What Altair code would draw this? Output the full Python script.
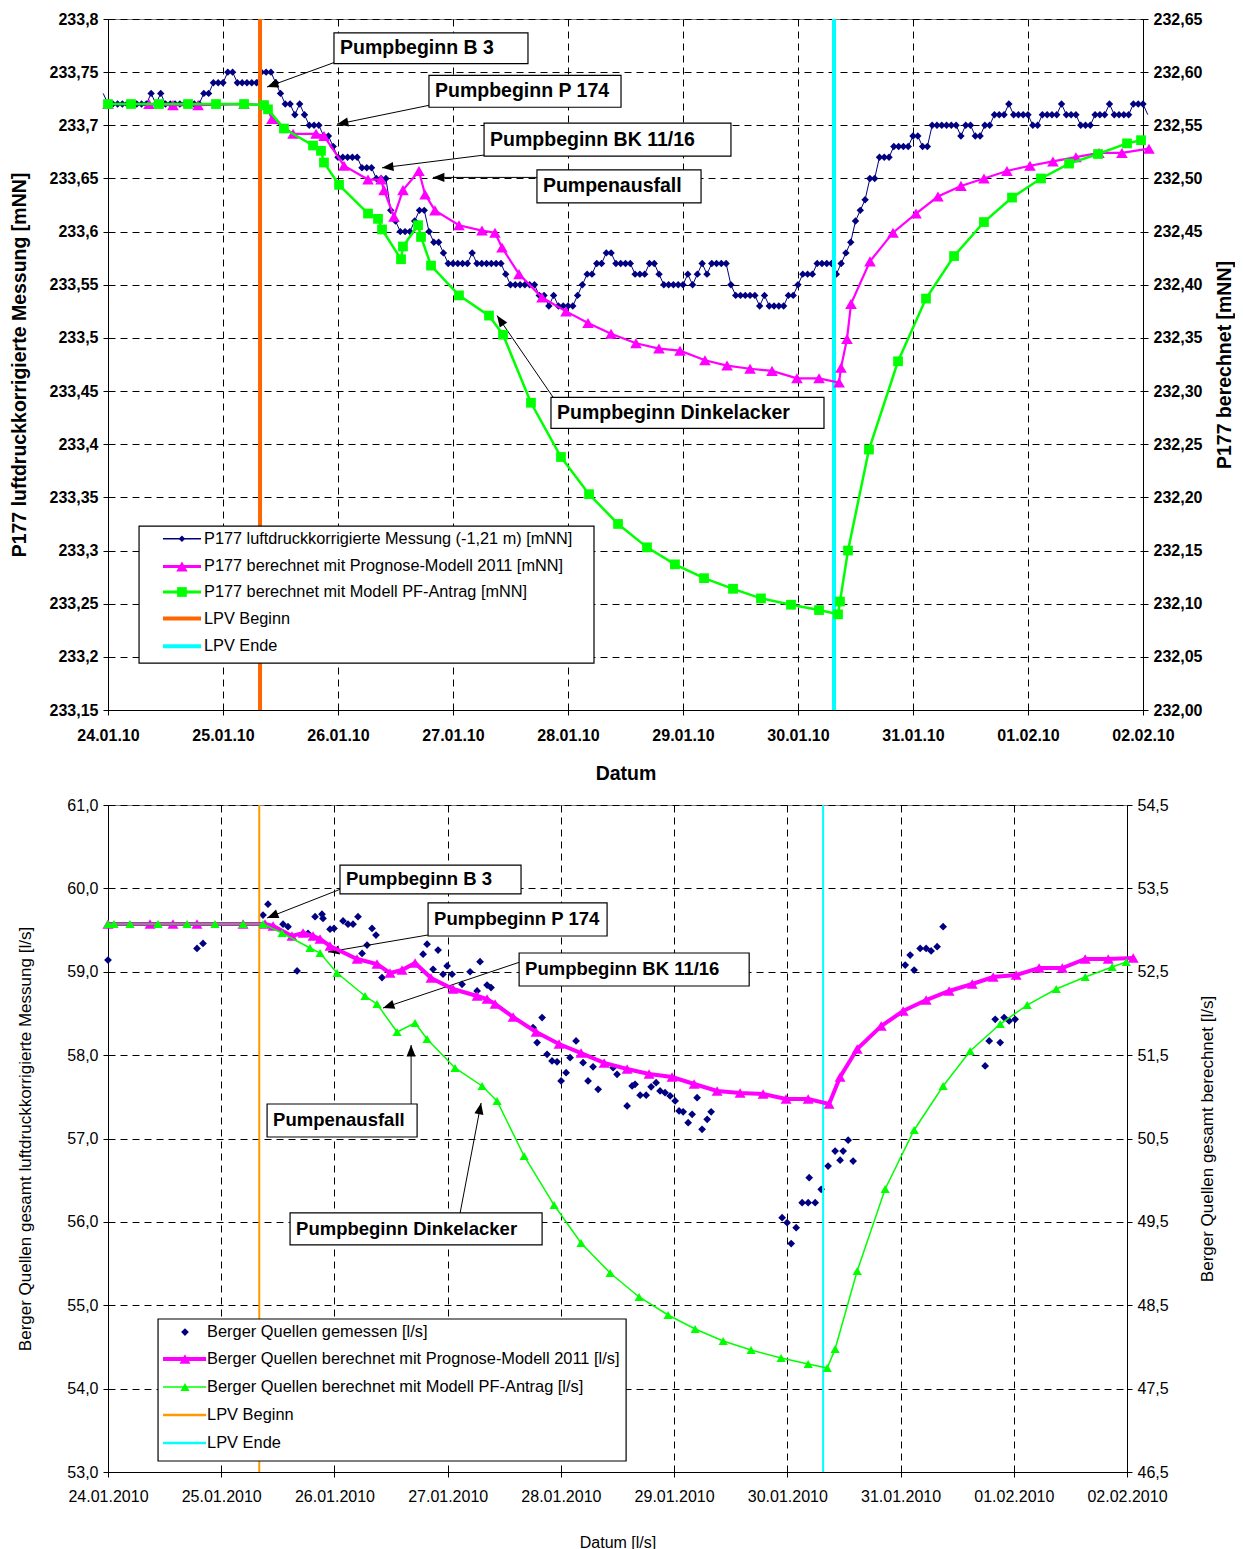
import math
import altair as alt
import pandas as pd

FONT = "Liberation Sans"

# ======================= TOP PANEL DATA =======================
TOP_X_LABELS = ["24.01.10", "25.01.10", "26.01.10", "27.01.10", "28.01.10",
                "29.01.10", "30.01.10", "31.01.10", "01.02.10", "02.02.10"]
TOP_LEFT_TICKS = [233.15, 233.2, 233.25, 233.3, 233.35, 233.4, 233.45, 233.5,
                  233.55, 233.6, 233.65, 233.7, 233.75, 233.8]
TOP_RIGHT_TICKS = [232.0, 232.05, 232.1, 232.15, 232.2, 232.25, 232.3, 232.35,
                   232.4, 232.45, 232.5, 232.55, 232.6, 232.65]

# hourly measurement, first value at hour -1 (23.01.2010 23:00)
TOP_MESS_FIRST_HOUR = -1
TOP_MESS = [
    233.73,
    233.72, 233.72, 233.72, 233.72, 233.72, 233.72, 233.72, 233.72, 233.72,
    233.73, 233.72, 233.73,
    233.72, 233.72, 233.72, 233.72, 233.72, 233.72, 233.72, 233.72,
    233.73, 233.73, 233.74, 233.74,
    233.74, 233.75, 233.75, 233.74, 233.74, 233.74, 233.74, 233.74, 233.75, 233.75, 233.75, 233.74,
    233.73, 233.72, 233.72, 233.71, 233.72, 233.71, 233.70, 233.70, 233.70, 233.69, 233.69, 233.68,
    233.67, 233.67, 233.67, 233.67, 233.67, 233.66, 233.66, 233.66, 233.65, 233.65, 233.65, 233.62,
    233.61, 233.60, 233.60, 233.60, 233.61, 233.62, 233.62, 233.60, 233.59, 233.59, 233.58, 233.57,
    233.57, 233.57, 233.57, 233.57, 233.58, 233.57, 233.57, 233.57, 233.57, 233.57, 233.57, 233.56,
    233.55, 233.55, 233.55, 233.55, 233.55, 233.55, 233.54, 233.54, 233.53, 233.54, 233.53, 233.53,
    233.53, 233.53, 233.54, 233.55, 233.56, 233.56, 233.57, 233.57, 233.58, 233.58, 233.57, 233.57,
    233.57, 233.57, 233.56, 233.56, 233.56, 233.57, 233.57, 233.56, 233.55, 233.55, 233.55, 233.55,
    233.55, 233.56, 233.55, 233.56, 233.57, 233.56, 233.57, 233.57, 233.57, 233.57, 233.55, 233.54,
    233.54, 233.54, 233.54, 233.54, 233.53, 233.54, 233.53, 233.53, 233.53, 233.53, 233.54, 233.54,
    233.55, 233.56, 233.56, 233.56, 233.57, 233.57, 233.57, 233.57, 233.56, 233.57, 233.58, 233.59,
    233.61, 233.62, 233.63, 233.65, 233.65, 233.67, 233.67, 233.67, 233.68, 233.68, 233.68, 233.68,
    233.69, 233.69, 233.68, 233.68, 233.70, 233.70, 233.70, 233.70, 233.70, 233.70, 233.69, 233.70,
    233.70, 233.69, 233.69, 233.70, 233.70, 233.71, 233.71, 233.71, 233.72, 233.71, 233.71, 233.71,
    233.71, 233.70, 233.70, 233.71, 233.71, 233.71, 233.71, 233.72, 233.71, 233.71, 233.71, 233.70,
    233.70, 233.70, 233.71, 233.71, 233.71, 233.72, 233.71, 233.71, 233.71, 233.71, 233.72, 233.72,
    233.72, 233.71,
]

TOP_PROG_D = [0.0, 0.357, 0.565, 0.783, 1.183, 1.374, 1.426, 1.609, 1.809, 1.878,
              2.052, 2.261, 2.374, 2.400, 2.487, 2.565, 2.704, 2.757, 2.843, 3.052,
              3.252, 3.365, 3.426, 3.574, 3.774, 3.983, 4.174, 4.374, 4.591, 4.791,
              4.974, 5.191, 5.383, 5.583, 5.774, 5.991, 6.183, 6.357, 6.374, 6.426,
              6.461, 6.626, 6.826, 7.026, 7.217, 7.417, 7.617, 7.817, 8.017, 8.217,
              8.417, 8.617, 8.817, 9.052]
TOP_PROG_V = [232.570, 232.570, 232.569, 232.569, 232.570, 232.569, 232.556, 232.542, 232.542, 232.540,
              232.512, 232.499, 232.499, 232.489, 232.464, 232.489, 232.507, 232.485, 232.470, 232.456,
              232.451, 232.449, 232.435, 232.410, 232.388, 232.375, 232.364, 232.354, 232.345, 232.340,
              232.338, 232.329, 232.324, 232.321, 232.319, 232.312, 232.312, 232.308, 232.322, 232.349,
              232.382, 232.422, 232.449, 232.467, 232.483, 232.493, 232.500, 232.507, 232.512, 232.516,
              232.520, 232.524, 232.524, 232.528]

TOP_PF_D = [0.0, 0.200, 0.443, 0.696, 0.939, 1.183, 1.357, 1.391, 1.530, 1.783,
            1.852, 1.878, 2.009, 2.261, 2.348, 2.383, 2.548, 2.565, 2.696, 2.722,
            2.809, 3.052, 3.313, 3.435, 3.678, 3.939, 4.183, 4.435, 4.687, 4.930,
            5.183, 5.435, 5.678, 5.939, 6.183, 6.348, 6.365, 6.435, 6.617, 6.870,
            7.113, 7.357, 7.617, 7.861, 8.113, 8.357, 8.609, 8.861, 8.983]
TOP_PF_V = [232.570, 232.570, 232.570, 232.570, 232.570, 232.570, 232.569, 232.565, 232.547, 232.531,
            232.526, 232.515, 232.494, 232.467, 232.462, 232.452, 232.424, 232.436, 232.456, 232.445,
            232.418, 232.390, 232.371, 232.353, 232.289, 232.238, 232.203, 232.175, 232.153, 232.137,
            232.124, 232.114, 232.105, 232.099, 232.094, 232.090, 232.102, 232.150, 232.245, 232.328,
            232.387, 232.427, 232.459, 232.482, 232.500, 232.514, 232.523, 232.533, 232.536]

TOP_LPV = [1.322, 6.313]

# ======================= BOTTOM PANEL DATA =======================
BOT_X_LABELS = ["24.01.2010", "25.01.2010", "26.01.2010", "27.01.2010", "28.01.2010",
                "29.01.2010", "30.01.2010", "31.01.2010", "01.02.2010", "02.02.2010"]
BOT_LEFT_TICKS = [53.0, 54.0, 55.0, 56.0, 57.0, 58.0, 59.0, 60.0, 61.0]
BOT_RIGHT_TICKS = [46.5, 47.5, 48.5, 49.5, 50.5, 51.5, 52.5, 53.5, 54.5]

BOT_MESS_D = [0.000, 0.786, 0.839, 1.369, 1.413, 1.546, 1.590, 1.670, 1.723, 1.767,
              1.829, 1.890, 1.899, 1.961, 1.996, 2.076, 2.120, 2.164, 2.208, 2.244,
              2.288, 2.332, 2.367, 2.420, 2.783, 2.818, 2.871, 2.915, 2.959, 2.995,
              3.039, 3.127, 3.198, 3.260, 3.286, 3.348, 3.383, 3.754, 3.790, 3.834,
              3.878, 3.922, 3.966, 4.002, 4.046, 4.081, 4.134, 4.196, 4.240, 4.284,
              4.329, 4.461, 4.496, 4.585, 4.629, 4.655, 4.700, 4.753, 4.797, 4.841,
              4.876, 4.920, 4.965, 5.009, 5.044, 5.080, 5.124, 5.159, 5.203, 5.247,
              5.292, 5.327, 5.954, 5.998, 6.034, 6.078, 6.131, 6.184, 6.193, 6.246,
              6.299, 6.360, 6.422, 6.466, 6.493, 6.537, 6.581, 7.041, 7.085, 7.120,
              7.173, 7.226, 7.270, 7.323, 7.376, 7.747, 7.783, 7.836, 7.880, 7.915,
              7.959, 8.012, 9.002]
BOT_MESS_V = [59.14, 59.28, 59.34, 59.68, 59.81, 59.57, 59.54, 59.01, 59.46, 59.46,
              59.66, 59.69, 59.64, 59.51, 59.52, 59.61, 59.57, 59.57, 59.66, 59.22,
              59.32, 59.52, 59.44, 58.93, 59.21, 59.33, 59.03, 59.26, 58.97, 59.07,
              58.97, 58.85, 59.00, 58.77, 59.12, 58.84, 58.81, 58.33, 58.15, 58.45,
              58.01, 57.93, 57.92, 57.69, 57.79, 57.97, 58.17, 57.91, 57.69, 57.86,
              57.59, 57.85, 57.77, 57.39, 57.63, 57.65, 57.52, 57.52, 57.62, 57.67,
              57.57, 57.55, 57.51, 57.45, 57.33, 57.32, 57.19, 57.29, 57.49, 57.11,
              57.23, 57.32, 56.05, 55.99, 55.74, 55.93, 56.23, 56.23, 56.53, 56.23,
              56.39, 56.67, 56.85, 56.74, 56.85, 56.98, 56.73, 59.08, 59.20, 59.02,
              59.28, 59.28, 59.25, 59.30, 59.54, 57.87, 58.17, 58.43, 58.15, 58.45,
              58.41, 58.43, 59.42]

BOT_PROG_D = [0.0, 0.371, 0.574, 0.786, 1.193, 1.387, 1.458, 1.625, 1.723, 1.811,
              1.873, 1.961, 2.200, 2.376, 2.491, 2.597, 2.712, 2.853, 3.048, 3.260,
              3.348, 3.419, 3.578, 3.781, 3.984, 4.178, 4.382, 4.585, 4.779, 4.982,
              5.177, 5.380, 5.583, 5.786, 5.989, 6.184, 6.369, 6.466, 6.617, 6.829,
              7.023, 7.226, 7.429, 7.633, 7.818, 8.021, 8.224, 8.428, 8.631, 8.834,
              9.055]
BOT_PROG_V = [53.073, 53.073, 53.073, 53.073, 53.073, 53.073, 53.049, 52.929, 52.965, 52.929,
              52.893, 52.809, 52.653, 52.593, 52.485, 52.521, 52.605, 52.425, 52.293, 52.209,
              52.173, 52.113, 51.957, 51.777, 51.633, 51.525, 51.406, 51.334, 51.274, 51.238,
              51.154, 51.070, 51.046, 51.034, 50.974, 50.974, 50.914, 51.238, 51.573, 51.849,
              52.029, 52.161, 52.269, 52.353, 52.437, 52.461, 52.545, 52.545, 52.653, 52.653,
              52.665]

BOT_PF_D = [0.0, 0.053, 0.194, 0.442, 0.698, 0.945, 1.193, 1.369, 1.537, 1.784,
            1.873, 2.023, 2.270, 2.376, 2.553, 2.712, 2.818, 3.065, 3.304, 3.436,
            3.675, 3.940, 4.178, 4.435, 4.691, 4.947, 5.186, 5.433, 5.680, 5.945,
            6.184, 6.352, 6.422, 6.617, 6.864, 7.120, 7.376, 7.615, 7.880, 8.118,
            8.375, 8.631, 8.869, 8.993]
BOT_PF_V = [53.073, 53.073, 53.073, 53.073, 53.073, 53.073, 53.073, 53.073, 52.965, 52.785,
            52.725, 52.485, 52.209, 52.113, 51.777, 51.885, 51.693, 51.346, 51.130, 50.950,
            50.290, 49.702, 49.247, 48.887, 48.599, 48.383, 48.215, 48.071, 47.963, 47.867,
            47.795, 47.747, 47.975, 48.911, 49.894, 50.602, 51.130, 51.549, 51.873, 52.101,
            52.293, 52.437, 52.557, 52.617]

BOT_LPV = [1.336, 6.316]

# ======================= ANNOTATIONS / LEGENDS =======================
ANN_TEXT = ["Pumpbeginn B 3", "Pumpbeginn P 174", "Pumpbeginn BK 11/16",
            "Pumpenausfall", "Pumpbeginn Dinkelacker"]

TOP_ANN = dict(
    bx1=[1.965, 2.791, 3.270, 3.730, 3.852], bx2=[3.652, 4.461, 5.417, 5.157, 6.226],
    by1=[233.787, 233.747, 233.702, 233.658, 233.444], by2=[233.758, 233.717, 233.671, 233.627, 233.415],
    ax1=[1.965, 2.800, 3.270, 3.730, 3.878], ay1=[233.759, 233.719, 233.672, 233.651, 233.443],
    ax2=[1.383, 1.991, 2.383, 2.826, 3.383], ay2=[233.736, 233.701, 233.660, 233.651, 233.521],
)
BOT_ANN = dict(
    bx1=[2.049, 2.827, 3.631, 1.405, 1.608], bx2=[3.648, 4.408, 5.663, 2.730, 3.834],
    by1=[60.280, 59.825, 59.225, 57.414, 56.107], by2=[59.933, 59.429, 58.829, 57.018, 55.723],
    ax1=[2.058, 2.827, 3.640, 2.677, 3.110], ay1=[59.993, 59.441, 59.117, 57.414, 56.107],
    ax2=[1.405, 1.943, 2.429, 2.677, 3.295], ay2=[59.645, 59.237, 58.565, 58.121, 57.426],
)

TOP_LEG_LABELS = ["P177 luftdruckkorrigierte Messung (-1,21 m) [mNN]",
                  "P177 berechnet mit Prognose-Modell 2011 [mNN]",
                  "P177 berechnet mit Modell PF-Antrag [mNN]",
                  "LPV Beginn", "LPV Ende"]
BOT_LEG_LABELS = ["Berger Quellen gemessen [l/s]",
                  "Berger Quellen berechnet mit Prognose-Modell 2011 [l/s]",
                  "Berger Quellen berechnet mit Modell PF-Antrag [l/s]",
                  "LPV Beginn", "LPV Ende"]

NAVY, MAGENTA, GREEN, CYAN = "#000080", "#FF00FF", "#00FF00", "#00FFFF"

ARROW_PATH = "M0,0L0.4,1L-0.4,1Z"


def fmt(spec):
    return f"replace(format(datum.value, '{spec}'), '.', ',')"


def lab(labels):
    return "[" + ",".join("'" + s + "'" for s in labels) + "][round(datum.value)]"


def build_panel(c):
    W, H = c["W"], c["H"]
    ldom, rdom = c["ldom"], c["rdom"]
    ppd = W / 9.0
    ppv = H / (ldom[1] - ldom[0])
    wt = "bold" if c["bold"] else "normal"

    xs = alt.Scale(domain=[0, 9], nice=False, zero=False)
    ls = alt.Scale(domain=ldom, nice=False, zero=False)
    rs = alt.Scale(domain=rdom, nice=False, zero=False)

    x_axis = alt.Axis(values=list(range(10)), labelExpr=lab(c["xlabels"]), labelFlush=False,
                      labelOverlap=False, labelFont=FONT, labelFontSize=c["tick_fs"],
                      labelFontWeight=wt, labelColor="black", labelPadding=c["xlp"],
                      tickColor="black", tickSize=5, domainColor="black",
                      grid=True, gridColor="black", gridDash=[7, 5], gridOpacity=1,
                      title=c["xtitle"], titleFont=FONT, titleFontSize=c["xt_fs"],
                      titleFontWeight=wt, titleColor="black", titlePadding=c["xtp"])
    l_axis = alt.Axis(orient="left", values=c["lticks"], labelExpr=fmt(c["lfmt"]),
                      labelOverlap=False, labelFlush=False, labelFont=FONT,
                      labelFontSize=c["tick_fs"], labelFontWeight=wt, labelColor="black",
                      labelPadding=5, tickColor="black", tickSize=5, domainColor="black",
                      grid=True, gridColor="black", gridDash=[7, 5], gridOpacity=1,
                      title=c["ltitle"], titleFont=FONT, titleFontSize=c["yt_fs"],
                      titleFontWeight=wt, titleColor="black", titlePadding=c["ltp"])
    r_axis = alt.Axis(orient="right", values=c["rticks"], labelExpr=fmt(c["rfmt"]),
                      labelOverlap=False, labelFlush=False, labelFont=FONT,
                      labelFontSize=c["tick_fs"], labelFontWeight=wt, labelColor="black",
                      labelPadding=5, tickColor="black", tickSize=5, domainColor="black",
                      grid=False, title=c["rtitle"], titleFont=FONT, titleFontSize=c["yt_fs"],
                      titleFontWeight=wt, titleColor="black", titlePadding=c["rtp"],
                      titleAngle=270, titleBaseline="top")

    def X(f):
        return alt.X(f, type="quantitative", scale=xs, axis=x_axis)

    def YL(f):
        return alt.Y(f, type="quantitative", scale=ls, axis=l_axis)

    def YR(f):
        return alt.Y(f, type="quantitative", scale=rs, axis=r_axis)

    # ---------- measured ----------
    mess = c["mess"].copy()
    mess["i"] = range(len(mess))
    m_pts_df = mess[(mess["d"] >= 0) & (mess["d"] <= 9)]
    left_layers = []
    if c["mess_line"]:
        left_layers.append(alt.Chart(mess).mark_line(color=NAVY, strokeWidth=1).encode(
            x=X("d"), y=YL("v"), order="i:Q"))
    left_layers.append(alt.Chart(m_pts_df).mark_point(
        shape="diamond", filled=True, size=c["m_size"], color=NAVY, opacity=1).encode(
        x=X("d"), y=YL("v")))

    # ---------- LPV lines ----------
    lpv = pd.DataFrame({"d": c["lpv"], "col": [c["orange"], CYAN]})
    left_layers.append(alt.Chart(lpv).mark_rule(strokeWidth=c["lpv_w"]).encode(
        x=X("d"), color=alt.Color("col:N", scale=None)))

    # ---------- annotations ----------
    a = c["ann"]
    ann = pd.DataFrame(dict(a, text=ANN_TEXT))
    ann["tx"] = ann["bx1"] + 6.0 / ppd
    ann["ty"] = (ann["by1"] + ann["by2"]) / 2.0
    ann["ang"] = [
        math.degrees(math.atan2((x2 - x1) * ppd, (y2 - y1) * ppv)) % 360
        for x1, y1, x2, y2 in zip(a["ax1"], a["ay1"], a["ax2"], a["ay2"])
    ]
    left_layers += [
        alt.Chart(ann).mark_rule(color="black", strokeWidth=1).encode(
            x=X("ax1"), x2="ax2", y=YL("ay1"), y2="ay2"),
        alt.Chart(ann).mark_rect(fill="white", stroke="black", strokeWidth=1.2).encode(
            x=X("bx1"), x2="bx2", y=YL("by1"), y2="by2"),
        alt.Chart(ann).mark_text(align="left", baseline="middle", font=FONT,
                                 fontSize=c["ann_fs"], fontWeight="bold", color="black").encode(
            x=X("tx"), y=YL("ty"), text="text:N"),
        alt.Chart(ann).mark_point(shape=ARROW_PATH, filled=True, color="black", opacity=1,
                                  size=520, strokeWidth=0).encode(
            x=X("ax2"), y=YL("ay2"), angle=alt.Angle("ang:Q", scale=None)),
    ]

    # ---------- legend ----------
    lg = c["leg"]
    leg = pd.DataFrame({"label": c["leg_labels"], "y": lg["rows"], "col": lg["cols"],
                        "sw": lg["sw"], "shape": lg["shapes"], "size": lg["sizes"]})
    leg["x1"], leg["x2"], leg["xm"], leg["xt"] = lg["lx1"], lg["lx2"], lg["lxm"], lg["ltx"]
    box = pd.DataFrame({"x1": [lg["box"][0]], "x2": [lg["box"][1]],
                        "y1": [lg["box"][2]], "y2": [lg["box"][3]]})
    left_layers += [
        alt.Chart(box).mark_rect(fill="white", stroke="black", strokeWidth=1.2).encode(
            x=X("x1"), x2="x2", y=YL("y1"), y2="y2"),
        alt.Chart(leg[leg["sw"] > 0]).mark_rule().encode(
            x=X("x1"), x2="x2", y=YL("y"), color=alt.Color("col:N", scale=None),
            strokeWidth=alt.StrokeWidth("sw:Q", scale=None)),
        alt.Chart(leg[leg["shape"] != ""]).mark_point(filled=True, opacity=1).encode(
            x=X("xm"), y=YL("y"), shape=alt.Shape("shape:N", scale=None),
            color=alt.Color("col:N", scale=None), size=alt.Size("size:Q", scale=None)),
        alt.Chart(leg).mark_text(align="left", baseline="middle", font=FONT,
                                 fontSize=c["leg_fs"], color="black").encode(
            x=X("xt"), y=YL("y"), text="label:N"),
    ]
    left = alt.layer(*left_layers)

    # ---------- model series (right axis) ----------
    prog = pd.DataFrame({"d": c["prog_d"], "v": c["prog_v"]})
    prog["i"] = range(len(prog))
    pf = pd.DataFrame({"d": c["pf_d"], "v": c["pf_v"]})
    pf["i"] = range(len(pf))
    right = alt.layer(
        alt.Chart(prog).mark_line(color=MAGENTA, strokeWidth=c["prog_w"]).encode(
            x=X("d"), y=YR("v"), order="i:Q"),
        alt.Chart(prog).mark_point(shape="triangle-up", filled=True, size=c["prog_size"],
                                   color=MAGENTA, opacity=1).encode(x=X("d"), y=YR("v")),
        alt.Chart(pf).mark_line(color=GREEN, strokeWidth=c["pf_w"]).encode(
            x=X("d"), y=YR("v"), order="i:Q"),
        alt.Chart(pf).mark_point(shape=c["pf_shape"], filled=True, size=c["pf_size"],
                                 color=GREEN, opacity=1).encode(x=X("d"), y=YR("v")),
    )

    return alt.layer(left, right).resolve_scale(y="independent").properties(
        width=W, height=H)


top_mess_df = pd.DataFrame({
    "d": [(TOP_MESS_FIRST_HOUR + k) / 24.0 for k in range(len(TOP_MESS))],
    "v": TOP_MESS})
bot_mess_df = pd.DataFrame({"d": BOT_MESS_D, "v": BOT_MESS_V})

top_cfg = dict(
    W=1035, H=691, ldom=[233.15, 233.8], rdom=[232.0, 232.65], bold=True,
    xlabels=TOP_X_LABELS, lticks=TOP_LEFT_TICKS, rticks=TOP_RIGHT_TICKS,
    lfmt=".2~f", rfmt=".2f", tick_fs=16, xt_fs=19.5, yt_fs=19.5,
    xtitle="Datum", ltitle="P177 luftdruckkorrigierte Messung [mNN]",
    rtitle="P177 berechnet [mNN]", xlp=12, xtp=21, ltp=20, rtp=14,
    mess=top_mess_df, mess_line=True, m_size=55,
    prog_d=TOP_PROG_D, prog_v=TOP_PROG_V, prog_w=2.2, prog_size=135,
    pf_d=TOP_PF_D, pf_v=TOP_PF_V, pf_w=2.5, pf_shape="square", pf_size=95,
    lpv=TOP_LPV, orange="#FF6600", lpv_w=4,
    ann=TOP_ANN, ann_fs=19.5,
    leg_labels=TOP_LEG_LABELS, leg_fs=16.3,
    leg=dict(box=[0.270, 4.226, 233.194, 233.323],
             rows=[233.311, 233.285, 233.261, 233.236, 233.210],
             cols=[NAVY, MAGENTA, GREEN, "#FF6600", CYAN],
             sw=[1.5, 3, 3, 4, 4],
             shapes=["diamond", "triangle-up", "square", "", ""],
             sizes=[42, 130, 95, 0, 0],
             lx1=0.478, lx2=0.809, lxm=0.643, ltx=0.835),
)

bot_cfg = dict(
    W=1019, H=667, ldom=[53.0, 61.0], rdom=[46.5, 54.5], bold=False,
    xlabels=BOT_X_LABELS, lticks=BOT_LEFT_TICKS, rticks=BOT_RIGHT_TICKS,
    lfmt=".1f", rfmt=".1f", tick_fs=16, xt_fs=16, yt_fs=17,
    xtitle="Datum [l/s]", ltitle="Berger Quellen gesamt luftdruckkorrigierte Messung [l/s]",
    rtitle="Berger Quellen gesamt berechnet [l/s]", xlp=11, xtp=30, ltp=32, rtp=31,
    mess=bot_mess_df, mess_line=False, m_size=60,
    prog_d=BOT_PROG_D, prog_v=BOT_PROG_V, prog_w=4, prog_size=120,
    pf_d=BOT_PF_D, pf_v=BOT_PF_V, pf_w=1.5, pf_shape="triangle-up", pf_size=85,
    lpv=BOT_LPV, orange="#FF9900", lpv_w=2,
    ann=BOT_ANN, ann_fs=18.5,
    leg_labels=BOT_LEG_LABELS, leg_fs=16.4,
    leg=dict(box=[0.442, 4.576, 53.132, 54.835],
             rows=[54.679, 54.355, 54.019, 53.684, 53.348],
             cols=[NAVY, MAGENTA, GREEN, "#FF9900", CYAN],
             sw=[0, 4, 1.5, 2.5, 2.5],
             shapes=["diamond", "triangle-up", "triangle-up", "", ""],
             sizes=[60, 120, 85, 0, 0],
             lx1=0.486, lx2=0.866, lxm=0.680, ltx=0.875),
)

chart = alt.vconcat(build_panel(top_cfg), build_panel(bot_cfg), spacing=95, bounds="flush") \
    .configure_view(stroke="#808080", strokeWidth=1) \
    .properties(padding={"left": 0, "top": 2, "right": 0, "bottom": 0}, background="white")

chart.save("out.html", embed_options={"renderer": "svg", "actions": False})
